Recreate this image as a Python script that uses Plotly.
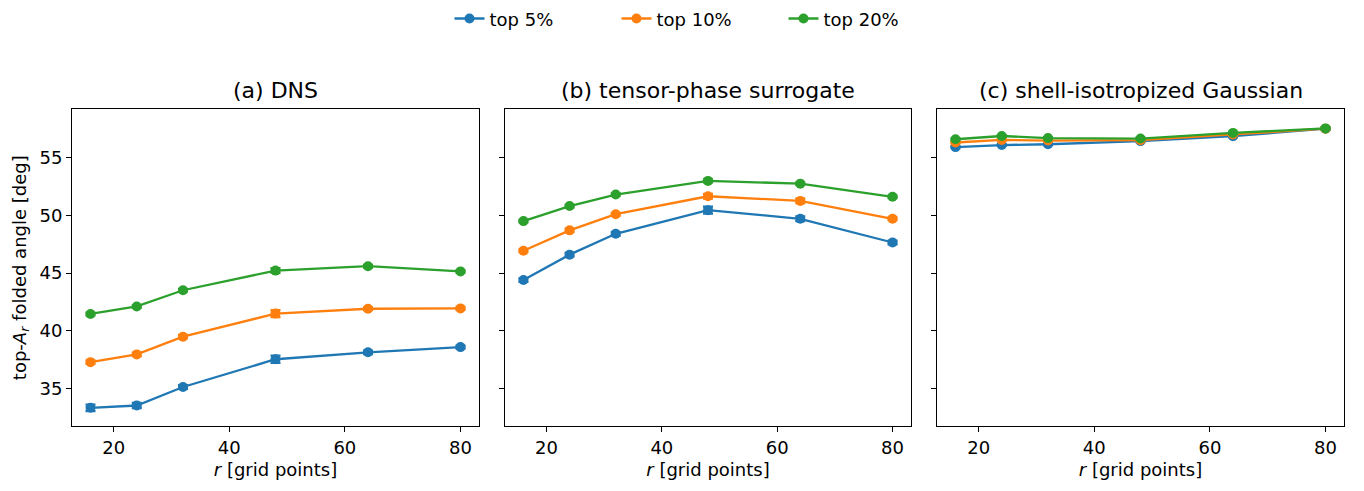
import plotly.graph_objects as go

r = [16, 24, 32, 48, 64, 80]
series_names = ["top 5%", "top 10%", "top 20%"]
colors = ["#1f77b4", "#ff7f0e", "#2ca02c"]
panel_titles = ["(a) DNS", "(b) tensor-phase surrogate", "(c) shell-isotropized Gaussian"]

# panel (a) DNS
dns_top5 = [33.35, 33.55, 35.15, 37.55, 38.15, 38.6]
dns_top10 = [37.3, 37.97, 39.5, 41.5, 41.92, 41.95]
dns_top20 = [41.47, 42.12, 43.52, 45.22, 45.6, 45.15]
dns_err5 = [0.28, 0.22, 0.15, 0.32, 0.15, 0.12]
dns_err10 = [0.15, 0.15, 0.15, 0.3, 0.12, 0.12]
dns_err20 = [0.12, 0.12, 0.12, 0.2, 0.12, 0.1]

# panel (b) tensor-phase surrogate
sur_top5 = [44.4, 46.6, 48.4, 50.45, 49.7, 47.65]
sur_top10 = [46.94, 48.7, 50.1, 51.65, 51.25, 49.7]
sur_top20 = [49.5, 50.8, 51.8, 52.98, 52.74, 51.6]
sur_err5 = [0.15, 0.15, 0.15, 0.3, 0.2, 0.15]
sur_err10 = [0.12, 0.15, 0.12, 0.2, 0.2, 0.12]
sur_err20 = [0.1, 0.1, 0.1, 0.12, 0.1, 0.1]

# panel (c) shell-isotropized Gaussian
gau_top5 = [55.9, 56.08, 56.15, 56.42, 56.85, 57.5]
gau_top10 = [56.3, 56.52, 56.47, 56.5, 57.0, 57.5]
gau_top20 = [56.58, 56.86, 56.68, 56.64, 57.13, 57.52]
gau_err5 = [0.08, 0.08, 0.08, 0.08, 0.08, 0.08]
gau_err10 = [0.08, 0.08, 0.08, 0.08, 0.08, 0.08]
gau_err20 = [0.08, 0.08, 0.08, 0.08, 0.08, 0.08]

panels = [
    ([dns_top5, dns_top10, dns_top20], [dns_err5, dns_err10, dns_err20]),
    ([sur_top5, sur_top10, sur_top20], [sur_err5, sur_err10, sur_err20]),
    ([gau_top5, gau_top10, gau_top20], [gau_err5, gau_err10, gau_err20]),
]

W, H = 1364, 491
x_domains = [(72 / W, 479 / W), (505 / W, 911 / W), (937 / W, 1344 / W)]
y_domain = (1 - 425 / H, 1 - 103 / H)

font_family = "DejaVu Sans"
fig = go.Figure()

for p, (vals, errs) in enumerate(panels):
    ax = "" if p == 0 else str(p + 1)
    for i in range(3):
        fig.add_trace(go.Scatter(
            x=r, y=vals[i],
            mode="lines+markers",
            name=series_names[i],
            legendgroup=series_names[i],
            showlegend=(p == 0),
            line=dict(color=colors[i], width=2.3),
            marker=dict(color=colors[i], size=10),
            error_y=dict(type="data", array=errs[i], color=colors[i], thickness=2.3, width=5),
            xaxis="x" + ax, yaxis="y" + ax,
        ))

layout = dict(
    width=W, height=H,
    margin=dict(l=0, r=0, t=0, b=0),
    paper_bgcolor="white", plot_bgcolor="white",
    font=dict(family=font_family, size=18, color="black"),
    legend=dict(orientation="h", x=0.5 + 18 / W, xanchor="center", y=1 - 11 / H, yanchor="middle",
                font=dict(size=18), bgcolor="rgba(0,0,0,0)",
                entrywidth=122, entrywidthmode="pixels", tracegroupgap=0),
    showlegend=True,
)

annotations = []
for p in range(3):
    key = "" if p == 0 else str(p + 1)
    layout["xaxis" + key] = dict(
        domain=list(x_domains[p]), anchor="y" + key,
        range=[12.8, 83.2], tickvals=[20, 40, 60, 80],
        ticks="outside", ticklen=5, tickwidth=1, tickcolor="black",
        showline=True, linecolor="black", linewidth=1, mirror=True,
        showgrid=False, zeroline=False, automargin=False,
        tickfont=dict(size=18),
        title=dict(text="<i>r</i> [grid points]", font=dict(size=18), standoff=6),
    )
    layout["yaxis" + key] = dict(
        domain=list(y_domain), anchor="x" + key,
        range=[31.77, 59.17], tickvals=[35, 40, 45, 50, 55],
        ticks="outside", ticklen=5, tickwidth=1, tickcolor="black",
        showline=True, linecolor="black", linewidth=1, mirror=True,
        showgrid=False, zeroline=False, automargin=False,
        showticklabels=(p == 0),
        tickfont=dict(size=18),
    )
    if p == 0:
        layout["yaxis"]["title"] = dict(text="top-<i>A</i><sub><i>r</i></sub> folded angle [deg]",
                                        font=dict(size=18), standoff=8)
    annotations.append(dict(
        text=panel_titles[p], x=(x_domains[p][0] + x_domains[p][1]) / 2, xref="paper",
        y=1 - 84 / H, yref="paper", xanchor="center", yanchor="middle",
        showarrow=False, font=dict(size=22),
    ))

layout["annotations"] = annotations
fig.update_layout(**layout)
fig.write_html("out.html", config={"displayModeBar": False},
               post_script="document.body.style.margin='0';document.body.style.padding='0';")
